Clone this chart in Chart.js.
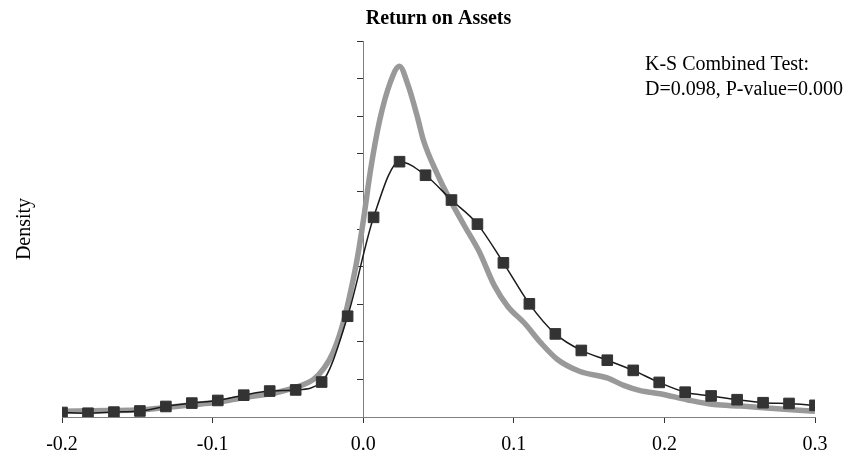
<!DOCTYPE html>
<html>
<head>
<meta charset="utf-8">
<title>Return on Assets</title>
<script src="https://cdn.jsdelivr.net/npm/chart.js@4.4.1/dist/chart.umd.min.js"></script>
<style>
  html, body { margin: 0; padding: 0; background: #fff; }
  #wrap { width: 852px; height: 460px; }
</style>
</head>
<body>
<div id="wrap"><canvas id="chart" width="852" height="460"></canvas></div>
<script>
// Return on Assets: empirical density (squares) vs fitted density (grey curve)
const binX = [
  -0.2, -0.18276, -0.16552, -0.14828, -0.13103, -0.11379, -0.09655, -0.07931, -0.06207, -0.04483,
  -0.02759, -0.01034, 0.0069, 0.02414, 0.04138, 0.05862, 0.07586, 0.0931, 0.11034, 0.12759,
  0.14483, 0.16207, 0.17931, 0.19655, 0.21379, 0.23103, 0.24828, 0.26552, 0.28276, 0.3
];
const empirical = [
  0.12, 0.10, 0.13, 0.16, 0.28, 0.37, 0.44, 0.58, 0.69, 0.72,
  0.93, 2.68, 5.31, 6.79, 6.43, 5.77, 5.13, 4.10, 3.01, 2.21,
  1.77, 1.51, 1.24, 0.92, 0.66, 0.56, 0.46, 0.38, 0.36, 0.31
];
const fitX = [
  -0.2, -0.17, -0.148, -0.115, -0.097, -0.079, -0.059, -0.044, -0.033, -0.026,
  -0.02, -0.013, -0.008, -0.004, 0.0, 0.005, 0.011, 0.018, 0.024, 0.03,
  0.036, 0.04, 0.049, 0.058, 0.067, 0.077, 0.087, 0.096, 0.107, 0.118,
  0.129, 0.144, 0.162, 0.173, 0.184, 0.197, 0.215, 0.233, 0.251, 0.268, 0.3
];
const fitted = [
  0.15, 0.17, 0.19, 0.32, 0.39, 0.52, 0.64, 0.80, 1.00, 1.30,
  1.72, 2.55, 3.40, 4.20, 5.20, 6.60, 7.90, 8.90, 9.33, 8.80,
  7.98, 7.36, 6.48, 5.75, 5.10, 4.40, 3.50, 2.94, 2.50, 1.97,
  1.53, 1.21, 1.04, 0.84, 0.70, 0.62, 0.46, 0.33, 0.29, 0.24, 0.15
];
const xTicks = [-0.2, -0.1, 0.0, 0.1, 0.2, 0.3];
const yTicks = [0, 1, 2, 3, 4, 5, 6, 7, 8, 9, 10];
const ksLines = ['K-S Combined Test:', 'D=0.098, P-value=0.000'];

const serif = '"Liberation Serif", "Times New Roman", serif';

// draws the test result in the upper right corner
const ksNote = {
  id: 'ksNote',
  afterDraw(chart) {
    const ctx = chart.ctx;
    ctx.save();
    ctx.font = '20px ' + serif;
    ctx.fillStyle = '#000';
    ctx.textAlign = 'left';
    ctx.textBaseline = 'alphabetic';
    ksLines.forEach((line, i) => ctx.fillText(line, 645, 70 + i * 25));
    ctx.restore();
  }
};

new Chart(document.getElementById('chart'), {
  type: 'line',
  data: {
    datasets: [
      {
        label: 'Empirical',
        data: binX.map((x, i) => ({ x, y: empirical[i] })),
        borderColor: '#1a1a1a',
        borderWidth: 1.5,
        backgroundColor: '#333',
        pointStyle: 'rect',
        pointRadius: 7.5,
        pointBorderWidth: 1,
        pointBorderColor: '#333',
        pointBackgroundColor: '#333',
        cubicInterpolationMode: 'monotone',
        fill: false,
      },
      {
        label: 'Fitted',
        data: fitX.map((x, i) => ({ x, y: fitted[i] })),
        borderColor: '#999999',
        borderWidth: 5.5,
        pointRadius: 0,
        cubicInterpolationMode: 'monotone',
        fill: false,
      },
    ],
  },
  options: {
    responsive: false,
    animation: false,
    devicePixelRatio: 1,
    layout: { padding: { left: 0, right: 37, top: 0, bottom: 0 } },
    plugins: {
      legend: { display: false },
      tooltip: { enabled: false },
      title: {
        display: true,
        text: 'Return on Assets',
        fullSize: false,
        color: '#000',
        font: { family: serif, size: 20, weight: 'bold', lineHeight: 1.2 },
        padding: { top: 7, bottom: 10 },
      },
    },
    scales: {
      x: {
        type: 'linear',
        min: -0.2,
        max: 0.3,
        afterBuildTicks: s => { s.ticks = xTicks.map(v => ({ value: v })); },
        afterFit: s => { s.height = 43; },
        ticks: {
          color: '#000',
          padding: 10,
          font: { family: serif, size: 20 },
          callback: v => v.toFixed(1),
        },
        grid: { drawOnChartArea: false, tickLength: 6, color: '#333' },
        border: { color: '#7f7f7f', width: 1 },
      },
      y: {
        type: 'linear',
        position: { x: 0 },
        min: 0,
        max: 10,
        afterBuildTicks: s => { s.ticks = yTicks.map(v => ({ value: v })); },
        ticks: { display: false },
        grid: { drawOnChartArea: false, tickLength: 6, color: '#333' },
        border: { color: '#7f7f7f', width: 1 },
      },
      yTitle: {
        type: 'linear',
        position: 'left',
        afterFit: s => { s.width = 62; },
        ticks: { display: false },
        grid: { display: false },
        border: { display: false },
        title: {
          display: true,
          text: 'Density',
          color: '#000',
          font: { family: serif, size: 20 },
          padding: { top: 13, bottom: 0 },
        },
      },
    },
  },
  plugins: [ksNote],
});
</script>
</body>
</html>
